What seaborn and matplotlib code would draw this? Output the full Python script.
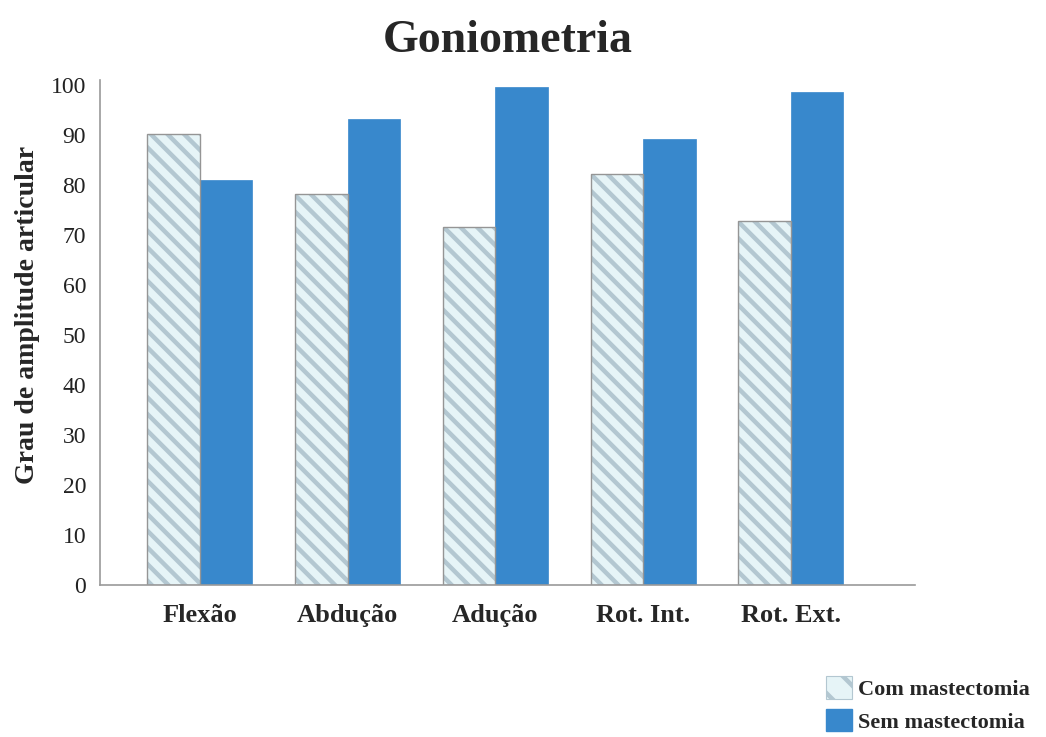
import matplotlib
matplotlib.use("Agg")
import matplotlib.pyplot as plt
import seaborn as sns
import pandas as pd
from matplotlib.patches import Patch, Rectangle

# Joint range-of-motion data (degrees)
categories = ["Flexão", "Abdução", "Adução", "Rot. Int.", "Rot. Ext."]
com_mastectomia = [90.2, 78.2, 71.6, 82.1, 72.7]
sem_mastectomia = [80.9, 93.2, 99.5, 89.2, 98.5]
series_names = ["Com mastectomia", "Sem mastectomia"]
y_ticks = [0, 10, 20, 30, 40, 50, 60, 70, 80, 90, 100]

df = pd.DataFrame({
    "categoria": categories * 2,
    "valor": com_mastectomia + sem_mastectomia,
    "grupo": [series_names[0]] * len(categories) + [series_names[1]] * len(categories),
})

sns.set_style("white")
plt.rcParams["font.family"] = ["Liberation Serif", "DejaVu Serif"]
plt.rcParams["hatch.linewidth"] = 3.2

fill_com = "#e6f4f7"
fill_sem = "#3888cc"
stripe_com = "#b3c7d1"
edge_com = "#959595"
hatch_com = "\\\\"

fig = plt.figure(figsize=(10.46, 7.37), dpi=100)
ax = fig.add_axes([0.0956, 0.2063, 0.7792, 0.6852])

sns.barplot(data=df, x="categoria", y="valor", hue="grupo",
            palette=[fill_com, fill_sem], width=0.71, ax=ax,
            legend=False, saturation=1)

# Striped fill for the first group; the stripe colour follows the edge colour,
# so a separate thin grey outline is laid over each bar.
for bar in ax.containers[0]:
    bar.set_hatch(hatch_com)
    bar.set_edgecolor(stripe_com)
    bar.set_linewidth(0)
    ax.add_patch(Rectangle(bar.get_xy(), bar.get_width(), bar.get_height(),
                           fill=False, edgecolor=edge_com, linewidth=1.0,
                           zorder=bar.get_zorder() + 0.1))
for bar in ax.containers[1]:
    bar.set_edgecolor(fill_sem)
    bar.set_linewidth(0.5)

ax.set_ylim(0, 101)
ax.set_xlim(-0.676, 4.84)
ax.set_yticks(y_ticks)
ax.tick_params(axis="both", length=0)
ax.tick_params(axis="y", labelsize=17, pad=10, labelcolor="#222222")
ax.tick_params(axis="x", labelsize=19, pad=14)
for lbl in ax.get_xticklabels():
    lbl.set_fontweight("bold")

ax.set_xlabel("")
ax.set_ylabel("Grau de amplitude articular", fontsize=20, fontweight="bold")
ax.yaxis.set_label_coords(-0.0736, 0.535)

ax.set_title("Goniometria", fontsize=33, fontweight="bold", pad=20)

for side in ["top", "right"]:
    ax.spines[side].set_visible(False)
for side in ["left", "bottom"]:
    ax.spines[side].set_color("#9a9a9a")
    ax.spines[side].set_linewidth(1.2)

handles = [
    Patch(facecolor=fill_com, edgecolor=stripe_com, hatch="\\", linewidth=0.8),
    Patch(facecolor=fill_sem, edgecolor=fill_sem),
]
fig.legend(handles, series_names, loc="upper left",
           bbox_to_anchor=(0.781, 0.095), frameon=False,
           prop={"weight": "bold", "size": 16},
           handlelength=1.2, handleheight=1.2, handletextpad=0.25,
           labelspacing=0.4, borderaxespad=0)

fig.savefig("out.png", dpi=100, facecolor="white")
